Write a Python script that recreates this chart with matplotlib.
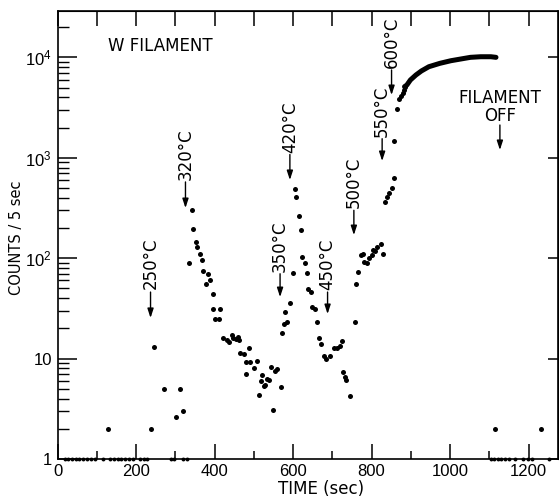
import matplotlib
matplotlib.use('Agg')
import matplotlib.pyplot as plt
from matplotlib.ticker import LogLocator, NullFormatter, NullLocator

# ---------------- data (time in s, counts per 5 s) ----------------
base_t = [18, 26, 36, 46, 56, 65, 75, 85, 95, 117, 134, 144, 154, 163, 173,
          183, 193, 210, 220, 228, 290, 298, 320, 330,
          1104, 1113, 1122, 1131, 1140, 1149, 1165, 1185, 1198, 1210, 1252]
base_c = [1] * len(base_t)

scatter_t = [129, 237, 246, 272, 302, 311, 320, 335, 343, 345,
             353, 356, 362, 369, 371, 379, 384, 389, 395, 397,
             402, 411, 415, 421, 433, 437, 444, 447, 455, 460,
             463, 466, 474, 479, 480, 488, 490, 500, 507, 513,
             519, 522, 525, 528, 533, 540, 544, 549, 553, 558,
             570, 572, 576, 580, 585, 592, 601, 604, 608, 616,
             620, 624, 630, 636, 639, 645, 649, 655, 661, 667,
             672, 678, 684, 693, 704, 711, 720, 725, 728, 733,
             736, 744, 757, 761, 766, 772, 777, 781, 788, 793,
             801, 803, 809, 815, 825, 829, 835, 840, 845, 851,
             856, 858, 864, 871, 876, 879, 882, 884,
             1115, 1232]
scatter_c = [2, 2, 13, 5, 2.6, 5, 3, 90, 300, 195,
             146, 128, 110, 97, 75, 55, 69, 61, 44, 31,
             25, 25, 31, 16, 15.3, 14.6, 17, 16, 15.8, 16.5,
             15.3, 11.5, 11.1, 7.1, 9.3, 12.7, 9.2, 8, 9.4, 4.3,
             6.0, 6.9, 5.3, 5.5, 6.2, 6.1, 8.2, 3.1, 7.6, 7.8,
             5.25, 18, 22, 29, 23.3, 35.5, 72, 486, 404, 265,
             191, 102, 89, 72, 49, 46, 33, 31, 23, 16,
             14, 10.6, 10, 10.6, 12.7, 12.7, 13.5, 15, 7.4, 6.5,
             6.1, 4.2, 23, 55, 73, 108, 110, 92, 89, 100,
             108, 121, 118, 130, 138, 109, 365, 410, 450, 497,
             625, 1470, 3080, 3830, 4130, 4450, 4730, 5110,
             2, 2]

curve_t = [884, 890, 899, 913, 927, 946, 974, 1002, 1027, 1052, 1078, 1104, 1117]
curve_c = [5110, 5310, 5960, 6680, 7330, 8080, 8730, 9270, 9640, 10020, 10160, 10160, 10020]

temp_labels = ["250°C", "320°C", "350°C", "420°C", "450°C", "500°C", "550°C", "600°C"]
temp_t = [237, 326, 567, 592, 688, 755, 827, 851]
temp_text_c = [49, 601, 73, 1116, 48, 316, 1611, 7840]
temp_tail_c = [46, 575, 70, 1080, 46, 300, 1550, 7500]
temp_tip_c = [25.4, 316, 41, 601, 27.8, 170, 929, 4220]

x_ticks = [0, 200, 400, 600, 800, 1000, 1200]
y_ticks = [1, 10, 100, 1000, 10000]
y_ticklabels = ['1', '10', '10$^2$', '10$^3$', '10$^4$']

# ---------------- style ----------------
plt.rcParams['font.family'] = ['Liberation Sans', 'DejaVu Sans']
plt.rcParams['mathtext.fontset'] = 'custom'
plt.rcParams['mathtext.rm'] = 'Liberation Sans'
plt.rcParams['mathtext.it'] = 'Liberation Sans'
plt.rcParams['mathtext.bf'] = 'Liberation Sans'
ann_font = ['DejaVu Sans']

fig = plt.figure(figsize=(5.59, 4.98), dpi=100)
ax = fig.add_axes([57.5 / 559, 39 / 498, 500.5 / 559, 448 / 498])
ax.set_yscale('log')
ax.set_xlim(0, 1275)
ax.set_ylim(1, 2.9e4)

ax.plot(base_t, base_c, 'o', color='k', ms=2.8, mew=0, clip_on=False, zorder=3)
ax.plot(scatter_t, scatter_c, 'o', color='k', ms=3.6, mew=0, clip_on=False, zorder=3)
ax.plot(curve_t, curve_c, '-', color='k', lw=3.6, solid_capstyle='round', zorder=3)

arrow_style = dict(arrowstyle='-|>,head_length=0.55,head_width=0.18',
                   color='k', lw=1.0, shrinkA=0, shrinkB=0)

for lab, t, tc, ta, tp in zip(temp_labels, temp_t, temp_text_c, temp_tail_c, temp_tip_c):
    ax.text(t, tc, lab, rotation=90, ha='center', va='bottom', fontsize=12, family=ann_font)
    ax.annotate('', xy=(t, tp), xytext=(t, ta), arrowprops=arrow_style)

ax.text(129, 12850, 'W FILAMENT', ha='left', va='center', fontsize=12, family=ann_font)
ax.text(1127, 3206, 'FILAMENT\nOFF', ha='center', va='center', multialignment='center',
        linespacing=0.95, fontsize=12, family=ann_font)
ax.annotate('', xy=(1127, 1196), xytext=(1127, 2122), arrowprops=arrow_style)

# x ticks
ax.set_xticks(x_ticks)
ax.set_xticklabels([str(v) for v in x_ticks])
ax.set_xticks([100, 300, 500, 700, 900, 1100], minor=True)
ax.tick_params(axis='x', which='major', direction='in', length=11, width=1.1,
               top=False, labelsize=12)
ax.tick_params(axis='x', which='minor', direction='in', length=6, width=1.1, top=False)
top = ax.secondary_xaxis('top')
top.set_xticks(list(range(0, 1300, 100)))
top.xaxis.set_minor_locator(NullLocator())
top.tick_params(direction='in', length=11, width=1.1, labeltop=False)

# y ticks
ax.set_yticks(y_ticks)
ax.set_yticklabels(y_ticklabels)
ax.yaxis.set_minor_locator(LogLocator(base=10, subs=[2, 3, 4, 5, 6, 7, 8, 9]))
ax.yaxis.set_minor_formatter(NullFormatter())
ax.tick_params(axis='y', which='major', direction='in', length=14, width=1.1,
               right=False, labelsize=12, pad=4)
ax.tick_params(axis='y', which='minor', direction='in', length=8, width=1.0, right=False)
rt = ax.secondary_yaxis('right')
rt.set_yticks(y_ticks)
rt.yaxis.set_minor_locator(NullLocator())
rt.tick_params(direction='in', length=7, width=1.1, labelright=False)

for sp in ax.spines.values():
    sp.set_linewidth(1.2)

fig.text(321 / 559, 1 - 489 / 498, 'TIME (sec)', ha='center', va='center',
         fontsize=12, family=ann_font)
fig.text(17 / 559, 1 - 237.5 / 498, 'COUNTS / 5 sec', rotation=90, ha='center',
         va='center', fontsize=10.5, family=ann_font)

fig.savefig('out.png', dpi=100)
